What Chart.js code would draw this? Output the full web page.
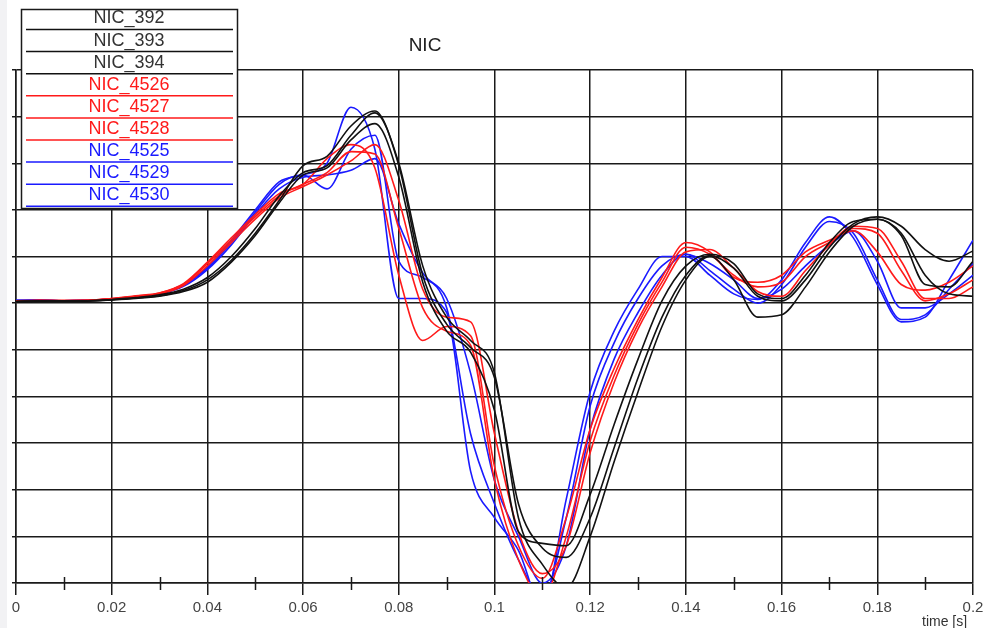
<!DOCTYPE html>
<html>
<head>
<meta charset="utf-8">
<script src="https://cdn.jsdelivr.net/npm/chart.js@4.4.1/dist/chart.umd.min.js"></script>
<style>
  html, body { margin: 0; padding: 0; background: #fff; }
  #wrap { position: relative; width: 983px; height: 628px; }
  #edge { position: absolute; left: 0; top: 0; width: 7px; height: 628px; background: #f2f2f4; }
  canvas { position: absolute; left: 0; top: 0; }
</style>
</head>
<body>
<div id="wrap">
  <div id="edge"></div>
  <canvas id="nic" width="983" height="628"></canvas>
</div>
<script>
// time axis (s)
const times = [0, .005, .01, .015, .02, .025, .03, .035, .04, .045, .05, .055, .06, .065, .07, .075, .08,
  .085, .09, .095, .1, .105, .11, .115, .12, .125, .13, .135, .14, .145, .15, .155, .16, .165, .17,
  .175, .18, .185, .19, .195, .2];

const seriesNames = ["NIC_392", "NIC_393", "NIC_394", "NIC_4526", "NIC_4527", "NIC_4528", "NIC_4525", "NIC_4529", "NIC_4530"];

// values (one grid step = 1)
const nic392 = [0.03, 0.05, 0.04, 0.05, 0.07, 0.11, 0.16, 0.27, 0.5, 0.92, 1.5, 2.2, 2.95, 3.15, 3.8, 4.12, 2.95,
  0.6, -0.45, -0.95, -1.6, -4.3, -5.25, -5.45, -4.6, -3.1, -1.6, -0.3, 0.6, 1.02, 0.75, 0.15, 0.05, 0.5, 1.2,
  1.7, 1.85, 1.65, 1.15, 0.9, 1.12];
const nic393 = [0.04, 0.05, 0.05, 0.05, 0.08, 0.12, 0.18, 0.3, 0.55, 1.0, 1.6, 2.3, 2.8, 2.95, 3.6, 4.08, 3.0,
  0.8, -0.3, -0.8, -1.5, -4.6, -5.6, -6.1, -5.0, -3.4, -1.9, -0.5, 0.5, 1.0, 0.5, -0.3, -0.25, 0.35, 1.1,
  1.65, 1.8, 1.5, 0.6, 0.2, 0.15];
const nic394 = [0.03, 0.04, 0.04, 0.05, 0.07, 0.1, 0.15, 0.25, 0.45, 0.88, 1.45, 2.15, 2.75, 2.9, 3.5, 3.85, 2.7,
  0.45, -0.6, -1.05, -2.3, -4.9, -5.15, -5.2, -4.1, -2.6, -1.2, 0.05, 0.8, 1.05, 0.85, 0.2, 0.1, 0.6, 1.3,
  1.75, 1.8, 1.45, 0.4, 0.35, 0.9];
const nic4526 = [0.04, 0.06, 0.05, 0.06, 0.1, 0.15, 0.22, 0.42, 0.88, 1.4, 1.9, 2.35, 2.55, 3.1, 3.4, 2.9, 0.6,
  -0.8, -0.5, -0.7, -3.5, -5.2, -5.9, -4.6, -2.7, -1.4, -0.35, 0.55, 1.3, 1.1, 0.55, 0.45, 0.6, 1.1, 1.35,
  1.55, 1.1, 0.4, 0.28, 0.45, 0.8];
const nic4527 = [0.05, 0.06, 0.06, 0.06, 0.1, 0.16, 0.22, 0.4, 0.85, 1.35, 1.85, 2.3, 2.55, 2.8, 3.25, 3.2, 1.6,
  -0.1, -0.6, -0.9, -3.8, -5.5, -6.3, -5.0, -2.95, -1.55, -0.45, 0.45, 1.2, 1.05, 0.6, 0.35, 0.45, 1.0, 1.3,
  1.6, 1.5, 0.7, 0.05, 0.2, 0.5];
const nic4528 = [0.04, 0.05, 0.05, 0.06, 0.09, 0.14, 0.2, 0.38, 0.8, 1.3, 1.8, 2.25, 2.5, 2.75, 3.05, 3.4, 2.2,
  0.3, -0.3, -0.4, -2.8, -4.9, -5.8, -5.2, -3.2, -1.7, -0.55, 0.35, 1.1, 1.15, 0.75, 0.25, 0.15, 0.7, 1.25,
  1.65, 1.6, 0.9, 0.1, 0.1, 0.35];
const nic4525 = [0.06, 0.07, 0.05, 0.06, 0.09, 0.13, 0.2, 0.38, 0.78, 1.35, 2.0, 2.6, 2.75, 3.0, 4.2, 3.3, 0.1,
  0.1, -0.2, -3.6, -4.6, -5.3, -6.5, -4.2, -1.9, -0.6, 0.3, 1.0, 1.0, 0.6, 0.2, 0.08, 0.5, 1.3, 1.85,
  1.4, 0.4, -0.4, -0.3, 0.5, 1.35];
const nic4529 = [0.05, 0.06, 0.05, 0.06, 0.09, 0.14, 0.2, 0.4, 0.75, 1.3, 1.95, 2.55, 2.75, 2.45, 3.3, 3.6, 0.9,
  0.55, -0.1, -2.8, -4.3, -5.5, -6.3, -4.6, -2.2, -0.85, 0.1, 0.8, 1.05, 0.7, 0.3, 0.0, 0.4, 1.2, 1.75,
  1.5, 0.5, -0.35, -0.25, 0.3, 0.85];
const nic4530 = [0.06, 0.06, 0.05, 0.06, 0.09, 0.13, 0.2, 0.36, 0.72, 1.25, 1.9, 2.45, 2.7, 2.75, 2.85, 3.1, 1.7,
  0.65, 0.1, -1.5, -3.8, -5.0, -6.0, -5.2, -2.7, -1.2, -0.2, 0.6, 1.05, 0.85, 0.5, 0.1, 0.3, 0.8, 1.25,
  1.55, 0.9, -0.1, -0.1, 0.2, 0.6];

const allSeries = [nic392, nic393, nic394, nic4526, nic4527, nic4528, nic4525, nic4529, nic4530];
const seriesColors = ["#111", "#111", "#111", "#ff1a1a", "#ff1a1a", "#ff1a1a", "#1a1aff", "#1a1aff", "#1a1aff"];

const datasets = allSeries.map((vals, i) => ({
  label: seriesNames[i],
  data: vals.map((v, k) => ({ x: times[k], y: v })),
  borderColor: seriesColors[i],
  borderWidth: 1.6,
  pointRadius: 0,
  cubicInterpolationMode: "monotone",
  fill: false,
}));

// extra drawing: minor ticks, title, axis name, boxed legend
const decor = {
  id: "decor",
  afterDraw(chart) {
    const { ctx, scales: { x, y } } = chart;
    ctx.save();
    ctx.strokeStyle = "#1a1a1a";
    ctx.lineWidth = 1.5;
    for (let v = 0.01; v < 0.2; v += 0.02) {
      const px = Math.round(x.getPixelForValue(v)) + 0.5;
      ctx.beginPath();
      ctx.moveTo(px, y.bottom - 6);
      ctx.lineTo(px, y.bottom + 7);
      ctx.stroke();
    }

    ctx.fillStyle = "#222";
    ctx.font = "19px 'Liberation Sans', Arial, sans-serif";
    ctx.textAlign = "center";
    ctx.textBaseline = "middle";
    ctx.fillText("NIC", 425, 46);

    ctx.font = "14px 'Liberation Sans', Arial, sans-serif";
    ctx.textAlign = "left";
    ctx.textBaseline = "top";
    ctx.fillStyle = "#333";
    ctx.fillText("time [s]", 922, 615);

    // legend box
    ctx.fillStyle = "#fff";
    ctx.fillRect(21, 9, 217, 200);
    ctx.strokeStyle = "#1a1a1a";
    ctx.lineWidth = 1.5;
    ctx.strokeRect(21.5, 9.5, 216, 199);
    ctx.font = "18px 'Liberation Sans', Arial, sans-serif";
    ctx.textAlign = "center";
    ctx.textBaseline = "middle";
    seriesNames.forEach((name, i) => {
      const rowY = 18.5 + i * 22.1;
      ctx.fillStyle = seriesColors[i] === "#111" ? "#333" : seriesColors[i];
      ctx.fillText(name, 129, rowY);
      ctx.strokeStyle = seriesColors[i];
      ctx.lineWidth = 1.5;
      ctx.beginPath();
      ctx.moveTo(26, rowY + 11);
      ctx.lineTo(233, rowY + 11);
      ctx.stroke();
    });
    ctx.restore();
  },
};

new Chart(document.getElementById("nic"), {
  type: "line",
  data: { datasets },
  options: {
    responsive: false,
    animation: false,
    devicePixelRatio: 1,
    layout: { padding: { top: 70, right: 0, left: 0, bottom: 0 } },
    plugins: { legend: { display: false }, title: { display: false }, tooltip: { enabled: false } },
    scales: {
      x: {
        type: "linear",
        min: 0,
        max: 0.2,
        afterFit: (s) => { s.height = 45; s.paddingRight = 10; s.paddingLeft = 0; },
        border: { color: "#1a1a1a", width: 1.5 },
        grid: { color: "#1a1a1a", lineWidth: 1.5, tickLength: 12, tickColor: "#1a1a1a" },
        ticks: {
          stepSize: 0.02,
          padding: 4,
          color: "#444",
          font: { family: "'Liberation Sans', Arial, sans-serif", size: 15 },
          callback: (v) => String(Number(v.toFixed(2))),
        },
      },
      y: {
        min: -6,
        max: 5,
        afterFit: (s) => { s.width = 16; },
        border: { color: "#1a1a1a", width: 1.5 },
        grid: { color: "#1a1a1a", lineWidth: 1.5, tickLength: 4, tickColor: "#1a1a1a" },
        ticks: { stepSize: 1, display: false },
      },
    },
  },
  plugins: [decor],
});
</script>
</body>
</html>
